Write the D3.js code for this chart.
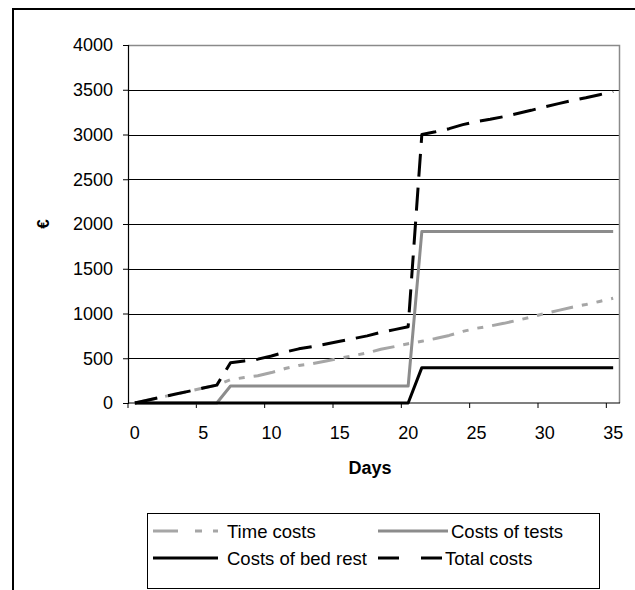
<!DOCTYPE html>
<html>
<head>
<meta charset="utf-8">
<script src="https://cdn.jsdelivr.net/npm/d3@7"></script>
<style>
    body { margin: 0; background: #fff; }
    text { font-family: Arial, "Liberation Sans", sans-serif; fill: #000; }
</style>
</head>
<body>
<div id="chart"></div>
<script>
// days on the x axis (one category per day)
const days = d3.range(0, 36);
const xTickDays = [0, 5, 10, 15, 20, 25, 30, 35];
const yTicks = [0, 500, 1000, 1500, 2000, 2500, 3000, 3500, 4000];

// values, in euro
const timeCosts = [0, 33, 67, 100, 133, 167, 200, 260, 285, 305, 340, 385, 420, 440, 470, 500, 530, 560,
    600, 630, 662, 690, 720, 755, 800, 835, 860, 890, 925, 960, 1000, 1035, 1070, 1100, 1135, 1170];
const testCosts = [0, 0, 0, 0, 0, 0, 0, 190, 190, 190, 190, 190, 190, 190, 190, 190, 190, 190,
    190, 190, 190, 1915, 1915, 1915, 1915, 1915, 1915, 1915, 1915, 1915, 1915, 1915, 1915, 1915, 1915, 1915];
const bedRestCosts = [0, 0, 0, 0, 0, 0, 0, 0, 0, 0, 0, 0, 0, 0, 0, 0, 0, 0,
    0, 0, 0, 395, 395, 395, 395, 395, 395, 395, 395, 395, 395, 395, 395, 395, 395, 395];
const totalCosts = [0, 33, 67, 100, 133, 167, 200, 450, 470, 490, 525, 570, 605, 630, 660, 690, 720, 750,
    790, 820, 852, 3000, 3030, 3065, 3110, 3145, 3170, 3200, 3235, 3270, 3310, 3345, 3380, 3410, 3445, 3480];

const seriesNames = ["Time costs", "Costs of tests", "Costs of bed rest", "Total costs"];

class CostChart {
    constructor(parentElement) {
        this.parentElement = parentElement;
        this.styles = {
            "Time costs": { color: "#a6a6a6", width: 3, dash: "22,9,6,9,6,9" },
            "Costs of tests": { color: "#8c8c8c", width: 3, dash: null },
            "Costs of bed rest": { color: "#000", width: 3, dash: null },
            "Total costs": { color: "#000", width: 3, dash: "23,11" }
        };
        this.initVis();
    }

    initVis() {
        let vis = this;
        vis.margin = { top: 45, right: 15, bottom: 187, left: 128 };
        vis.width = 635 - vis.margin.left - vis.margin.right;
        vis.height = 590 - vis.margin.top - vis.margin.bottom;

        vis.svg = d3.select("#" + vis.parentElement)
            .append("svg")
            .attr("width", 635)
            .attr("height", 590);

        // outer chart frame
        vis.svg.append("rect")
            .attr("x", 13).attr("y", 9)
            .attr("width", 640).attr("height", 600)
            .attr("fill", "none")
            .attr("stroke", "#000")
            .attr("stroke-width", 2);

        vis.g = vis.svg.append("g")
            .attr("transform", `translate(${vis.margin.left},${vis.margin.top})`);

        vis.x = d3.scaleBand()
            .domain(days)
            .range([0, vis.width])
            .padding(0);

        vis.y = d3.scaleLinear()
            .domain([0, 4000])
            .range([vis.height, 0]);
    }

    render() {
        let vis = this;
        const bw = vis.x.bandwidth();

        // grid lines
        vis.g.append("g")
            .selectAll("line")
            .data(yTicks.filter(d => d > 0 && d < 4000))
            .enter()
            .append("line")
            .attr("x1", 0)
            .attr("x2", vis.width)
            .attr("y1", d => Math.round(vis.y(d)) + 0.5)
            .attr("y2", d => Math.round(vis.y(d)) + 0.5)
            .attr("stroke", "#000")
            .attr("stroke-width", 1);

        // plot area border (top and right)
        vis.g.append("path")
            .attr("d", `M0,0.5H${vis.width - 0.5}V${vis.height}`)
            .attr("fill", "none")
            .attr("stroke", "#8a8a8a")
            .attr("stroke-width", 1.5);

        // y axis
        const yAxis = vis.g.append("g")
            .call(d3.axisLeft(vis.y).tickValues(yTicks).tickSize(5).tickPadding(10).tickFormat(d3.format("d")));
        yAxis.select(".domain").attr("stroke", "#000").attr("stroke-width", 1.2);
        yAxis.selectAll("text").style("font-size", "18px");

        // x axis: ticks on the category boundaries, labels centred in the category
        const xAxis = vis.g.append("g")
            .attr("transform", `translate(0,${vis.height})`);
        xAxis.append("line")
            .attr("x1", 0).attr("x2", vis.width)
            .attr("stroke", "#000").attr("stroke-width", 1.2);
        xAxis.selectAll(".tick")
            .data(xTickDays)
            .enter()
            .append("line")
            .attr("x1", d => vis.x(d))
            .attr("x2", d => vis.x(d))
            .attr("y1", 0).attr("y2", 5)
            .attr("stroke", "#000");
        xAxis.selectAll(".xlabel")
            .data(xTickDays)
            .enter()
            .append("text")
            .attr("class", "xlabel")
            .attr("x", d => vis.x(d) + bw / 2)
            .attr("y", 36)
            .attr("text-anchor", "middle")
            .style("font-size", "18px")
            .text(d => d);

        // axis titles
        vis.g.append("text")
            .attr("x", vis.width / 2 - 4)
            .attr("y", vis.height + 71)
            .attr("text-anchor", "middle")
            .style("font-size", "18px")
            .style("font-weight", "bold")
            .text("Days");

        vis.g.append("text")
            .attr("transform", `translate(${43 - vis.margin.left},${vis.height / 2}) rotate(-90)`)
            .attr("text-anchor", "middle")
            .attr("dominant-baseline", "central")
            .style("font-size", "17px")
            .style("font-weight", "bold")
            .text("€");

        // lines
        const seriesData = {
            "Time costs": timeCosts,
            "Costs of tests": testCosts,
            "Costs of bed rest": bedRestCosts,
            "Total costs": totalCosts
        };
        const line = d3.line()
            .x((d, i) => vis.x(days[i]) + bw / 2)
            .y(d => vis.y(d));

        seriesNames.forEach(name => {
            const s = vis.styles[name];
            vis.g.append("path")
                .datum(seriesData[name])
                .attr("d", line)
                .attr("fill", "none")
                .attr("stroke", s.color)
                .attr("stroke-width", s.width)
                .attr("stroke-dasharray", s.dash)
                .attr("stroke-linejoin", "round");
        });

        this.renderLegend();
    }

    renderLegend() {
        let vis = this;
        const legend = vis.svg.append("g");
        legend.append("rect")
            .attr("x", 147.5).attr("y", 513.5)
            .attr("width", 452).attr("height", 75)
            .attr("fill", "#fff")
            .attr("stroke", "#000")
            .attr("stroke-width", 1);

        // order in the box: row by row, two columns
        const slots = [
            { name: "Time costs", x: 153, len: 65, y: 531 },
            { name: "Costs of tests", x: 378, len: 70, y: 531 },
            { name: "Costs of bed rest", x: 153, len: 65, y: 558 },
            { name: "Total costs", x: 378, len: 64, y: 558 }
        ];

        const items = legend.selectAll(".item")
            .data(slots)
            .enter()
            .append("g")
            .attr("class", "item");

        items.append("line")
            .attr("x1", d => d.x)
            .attr("x2", d => d.x + d.len)
            .attr("y1", d => d.y)
            .attr("y2", d => d.y)
            .attr("stroke", d => vis.styles[d.name].color)
            .attr("stroke-width", 3)
            .attr("stroke-dasharray", d => d.name === "Time costs" ? "25,17,7,11,6,20" :
                (d.name === "Total costs" ? "21,22,21" : null));

        items.append("text")
            .attr("x", d => d.x + d.len + (d.x > 300 ? 3 : 9))
            .attr("y", d => d.y)
            .attr("dominant-baseline", "central")
            .style("font-size", "18.5px")
            .text(d => d.name);
    }
}

const chart = new CostChart("chart");
chart.render();
</script>
</body>
</html>
